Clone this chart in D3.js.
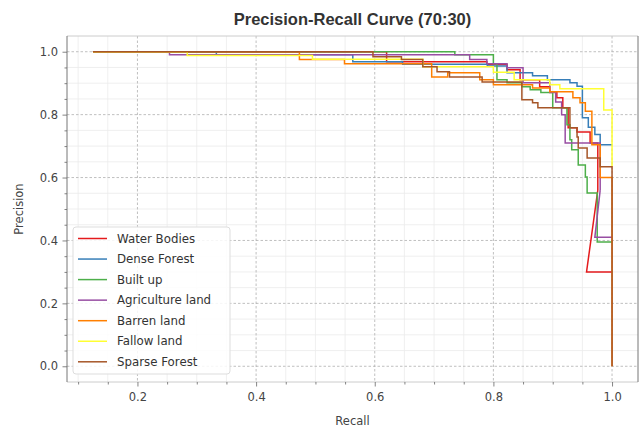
<!DOCTYPE html>
<html>
<head>
<meta charset="utf-8">
<script src="https://cdn.jsdelivr.net/npm/d3@7"></script>
<style>
body { margin:0; background:#fff; }
</style>
</head>
<body>
<div id="chart"></div>
<script>
// class names in legend order
var classNames = ["Water Bodies","Dense Forest","Built up","Agriculture land","Barren land","Fallow land","Sparse Forest"];

// [recall, precision] points (drawn as steps)
var waterBodies = [[0.125,1.0],[0.62,0.968],[0.789,0.959],[0.823,0.943],[0.845,0.911],[0.878,0.889],[0.895,0.873],[0.907,0.854],[0.917,0.822],[0.926,0.758],[0.941,0.745],[0.963,0.71],[0.976,0.56]];
var denseForest = [[0.125,1.0],[0.333,0.99],[0.563,0.968],[0.647,0.96],[0.79,0.955],[0.823,0.933],[0.866,0.924],[0.891,0.911],[0.929,0.901],[0.941,0.89],[0.95,0.79],[0.96,0.76],[0.971,0.737],[0.98,0.704],[1.0,0.704]];
var builtUp = [[0.125,1.0],[0.735,0.99],[0.80,0.962],[0.806,0.911],[0.823,0.901],[0.848,0.889],[0.862,0.879],[0.88,0.87],[0.9,0.822],[0.924,0.768],[0.929,0.72],[0.932,0.688],[0.943,0.64],[0.955,0.602],[0.958,0.551],[0.975,0.395],[1.0,0.395]];
var agricultureLand = [[0.125,1.0],[0.254,0.99],[0.76,0.975],[0.789,0.962],[0.823,0.949],[0.85,0.901],[0.895,0.87],[0.905,0.84],[0.915,0.80],[0.921,0.71],[0.98,0.56]];
var barrenLand = [[0.125,1.0],[0.473,0.975],[0.549,0.962],[0.696,0.92],[0.723,0.933],[0.777,0.911],[0.8,0.895],[0.866,0.885],[0.895,0.873],[0.934,0.854],[0.946,0.838],[0.955,0.811],[0.966,0.704],[0.98,0.6],[1.0,0.0]];
var fallowLand = [[0.125,1.0],[0.284,0.988],[0.495,0.976],[0.681,0.952],[0.80,0.935],[0.835,0.911],[0.895,0.895],[0.912,0.882],[0.986,0.815],[1.0,0.634]];
var sparseForest = [[0.125,1.0],[0.597,0.984],[0.645,0.975],[0.681,0.952],[0.705,0.936],[0.726,0.92],[0.781,0.904],[0.848,0.847],[0.866,0.838],[0.875,0.822],[0.929,0.758],[0.941,0.729],[0.943,0.694],[0.958,0.662],[0.98,0.634],[1.0,0.0]];

// last points joined by straight lines (slanted ends)
var waterBodiesTail = [[0.976,0.56],[0.957,0.30],[1.0,0.30]];
var agricultureLandTail = [[0.98,0.56],[0.971,0.41],[1.0,0.41]];

var allCurves = [waterBodies, denseForest, builtUp, agricultureLand, barrenLand, fallowLand, sparseForest];
var allTails = [waterBodiesTail, null, null, agricultureLandTail, null, null, null];

// tick values
var xTickValues = [0.2,0.4,0.6,0.8,1.0];
var yTickValues = [0.0,0.2,0.4,0.6,0.8,1.0];
var xMinorValues = [0.1,0.15,0.25,0.3,0.35,0.45,0.5,0.55,0.65,0.7,0.75,0.85,0.9,0.95];
var yMinorValues = [0.05,0.1,0.15,0.25,0.3,0.35,0.45,0.5,0.55,0.65,0.7,0.75,0.85,0.9,0.95];

var colorDictionary = {
	"Water Bodies":"#e41a1c",
	"Dense Forest":"#377eb8",
	"Built up":"#4daf4a",
	"Agriculture land":"#984ea3",
	"Barren land":"#ff7f00",
	"Fallow land":"#ffff33",
	"Sparse Forest":"#a65628"
};

var w = 643;
var h = 430;
var plotLeft = 67, plotRight = 638, plotTop = 36, plotBottom = 382;

var svg = d3.select("#chart")
	.append("svg")
	.attr("width", w)
	.attr("height", h)
	.style("font-family", "'DejaVu Sans', sans-serif");

var x = d3.scaleLinear().domain([0.08125, 1.04375]).range([plotLeft, plotRight]);
var y = d3.scaleLinear().domain([-0.05, 1.05]).range([plotBottom, plotTop]);

//minor grid
svg.selectAll(".minorX")
	.data(xMinorValues)
	.enter()
	.append("line")
	.attr("x1", function(d){return x(d);})
	.attr("x2", function(d){return x(d);})
	.attr("y1", plotTop)
	.attr("y2", plotBottom)
	.style("stroke", "#ebebeb")
	.style("stroke-width", 0.8);

svg.selectAll(".minorY")
	.data(yMinorValues)
	.enter()
	.append("line")
	.attr("x1", plotLeft)
	.attr("x2", plotRight)
	.attr("y1", function(d){return y(d);})
	.attr("y2", function(d){return y(d);})
	.style("stroke", "#ebebeb")
	.style("stroke-width", 0.8);

//major grid, dashed
svg.selectAll(".majorX")
	.data(xTickValues)
	.enter()
	.append("line")
	.attr("x1", function(d){return x(d);})
	.attr("x2", function(d){return x(d);})
	.attr("y1", plotTop)
	.attr("y2", plotBottom)
	.style("stroke", "#b0b0b0")
	.style("stroke-width", 0.8)
	.style("stroke-dasharray", "2.5,2");

svg.selectAll(".majorY")
	.data(yTickValues)
	.enter()
	.append("line")
	.attr("x1", plotLeft)
	.attr("x2", plotRight)
	.attr("y1", function(d){return y(d);})
	.attr("y2", function(d){return y(d);})
	.style("stroke", "#b0b0b0")
	.style("stroke-width", 0.8)
	.style("stroke-dasharray", "2.5,2");

//curves
var stepLine = d3.line()
	.x(function(d){return x(d[0]);})
	.y(function(d){return y(d[1]);})
	.curve(d3.curveStepAfter);

var straightLine = d3.line()
	.x(function(d){return x(d[0]);})
	.y(function(d){return y(d[1]);});

allCurves.forEach(function(curve, i){
	var color = colorDictionary[classNames[i]];
	svg.append("path")
		.datum(curve)
		.attr("d", stepLine)
		.attr("fill", "none")
		.attr("stroke", color)
		.attr("stroke-width", 1.5);
	if (allTails[i]){
		svg.append("path")
			.datum(allTails[i])
			.attr("d", straightLine)
			.attr("fill", "none")
			.attr("stroke", color)
			.attr("stroke-width", 1.5);
	}
});

//spines
svg.append("line").attr("x1", plotLeft).attr("x2", plotRight).attr("y1", plotTop).attr("y2", plotTop)
	.style("stroke", "#cccccc").style("stroke-width", 1);
svg.append("line").attr("x1", plotLeft).attr("x2", plotRight).attr("y1", plotBottom).attr("y2", plotBottom)
	.style("stroke", "#cccccc").style("stroke-width", 1);
svg.append("line").attr("x1", plotLeft).attr("x2", plotLeft).attr("y1", plotTop).attr("y2", plotBottom)
	.style("stroke", "#777777").style("stroke-width", 1);
svg.append("line").attr("x1", plotRight).attr("x2", plotRight).attr("y1", plotTop).attr("y2", plotBottom)
	.style("stroke", "#777777").style("stroke-width", 1);

//axes
var xAxis = svg.append("g")
	.attr("transform", "translate(0," + plotBottom + ")")
	.call(d3.axisBottom(x).tickValues(xTickValues).tickFormat(d3.format(".1f")).tickSize(4.5).tickPadding(6.5));
var xMinorAxis = svg.append("g")
	.attr("transform", "translate(0," + plotBottom + ")")
	.call(d3.axisBottom(x).tickValues(xMinorValues).tickFormat("").tickSize(2.5));
var yAxis = svg.append("g")
	.attr("transform", "translate(" + plotLeft + ",0)")
	.call(d3.axisLeft(y).tickValues(yTickValues).tickFormat(d3.format(".1f")).tickSize(4.5).tickPadding(4.5));
var yMinorAxis = svg.append("g")
	.attr("transform", "translate(" + plotLeft + ",0)")
	.call(d3.axisLeft(y).tickValues(yMinorValues).tickFormat("").tickSize(2.5));

[xAxis, xMinorAxis, yAxis, yMinorAxis].forEach(function(g){
	g.select(".domain").remove();
	g.selectAll("line").style("stroke", "#666666").style("stroke-width", 0.8);
	g.selectAll("text")
		.style("font-family", "'DejaVu Sans', sans-serif")
		.style("font-size", "11.5px")
		.style("fill", "#444444");
});

//labels
svg.append("text")
	.attr("x", (plotLeft + plotRight) / 2)
	.attr("y", 25)
	.attr("text-anchor", "middle")
	.style("font-family", "'Liberation Sans', Arial, sans-serif")
	.style("font-weight", "bold")
	.style("font-size", "16.5px")
	.style("fill", "#333333")
	.text("Precision-Recall Curve (70:30)");

svg.append("text")
	.attr("x", (plotLeft + plotRight) / 2)
	.attr("y", 425)
	.attr("text-anchor", "middle")
	.style("font-size", "11.5px")
	.style("fill", "#444444")
	.text("Recall");

svg.append("text")
	.attr("transform", "translate(23," + ((plotTop + plotBottom) / 2) + ") rotate(-90)")
	.attr("text-anchor", "middle")
	.style("font-size", "11.5px")
	.style("fill", "#444444")
	.text("Precision");

//legend
var legend = svg.append("g");
legend.append("rect")
	.attr("x", 73)
	.attr("y", 227)
	.attr("width", 157)
	.attr("height", 147)
	.attr("rx", 3)
	.attr("fill", "#ffffff")
	.attr("fill-opacity", 0.85)
	.attr("stroke", "#dddddd")
	.attr("stroke-width", 1);

var entries = legend.selectAll(".entry")
	.data(classNames)
	.enter()
	.append("g")
	.attr("transform", function(d, i){return "translate(0," + (238.5 + i * 20.55) + ")";});

entries.append("line")
	.attr("x1", 78)
	.attr("x2", 107)
	.attr("y1", 0)
	.attr("y2", 0)
	.style("stroke", function(d){return colorDictionary[d];})
	.style("stroke-width", 1.5);

entries.append("text")
	.attr("x", 117)
	.attr("dy", "0.35em")
	.style("font-size", "11.8px")
	.style("fill", "#333333")
	.text(function(d){return d;});
</script>
</body>
</html>
